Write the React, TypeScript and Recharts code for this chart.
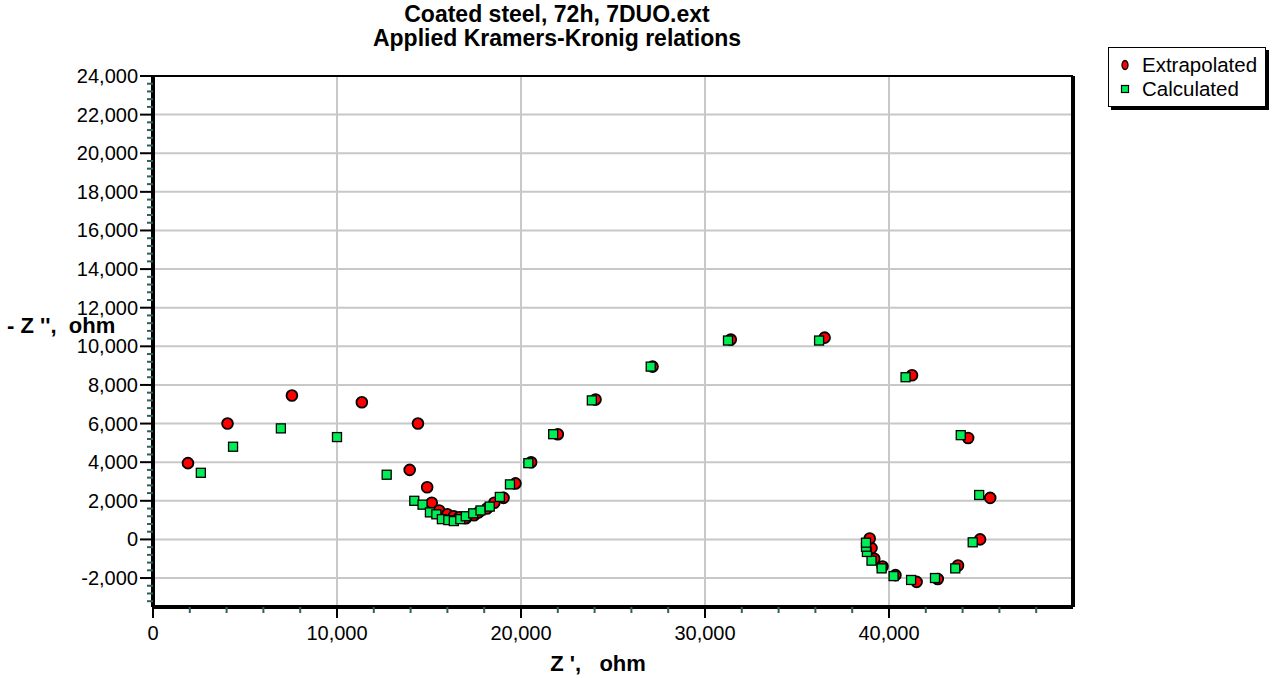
import { ScatterChart, Scatter, XAxis, YAxis, CartesianGrid, ReferenceLine } from "recharts";

// Nyquist data (Z' in ohm, -Z'' in ohm)
const extrapolatedRe = [
  1900, 4050, 7550, 11350, 14400, 13950, 14900, 15150, 15550, 16000, 16350, 16650, 17000,
  17450, 17700, 18150, 18550, 19050, 19700, 20550, 22000, 24050, 27150, 31400, 36500,
  41250, 44300, 45500, 44950, 43750, 42650, 41500, 40350, 39650, 39200, 39050, 38950,
];
const extrapolatedIm = [
  3950, 6000, 7450, 7100, 6000, 3600, 2700, 1900, 1500, 1300, 1200, 1150, 1100,
  1250, 1400, 1600, 1900, 2150, 2900, 4000, 5450, 7250, 8950, 10350, 10450,
  8500, 5250, 2150, 0, -1350, -2050, -2200, -1850, -1400, -1000, -450, 50,
];
const calculatedRe = [
  2600, 4350, 6950, 10000, 12700, 14200, 14650, 15050, 15400, 15700, 16050, 16350, 16700,
  17000, 17400, 17800, 18300, 18850, 19400, 20400, 21750, 23850, 27050, 31250, 36200,
  40900, 43900, 44900, 44550, 43600, 42500, 41200, 40250, 39600, 39050, 38800, 38750, 38750,
];
const calculatedIm = [
  3450, 4800, 5750, 5300, 3350, 2000, 1800, 1400, 1300, 1050, 1000, 950, 1050,
  1200, 1350, 1500, 1700, 2200, 2850, 3950, 5450, 7200, 8950, 10300, 10300,
  8400, 5400, 2300, -150, -1500, -2000, -2100, -1900, -1500, -1100, -650, -380, -170,
];

const xMajor = [0, 10000, 20000, 30000, 40000];
const yMajor = [-2000, 0, 2000, 4000, 6000, 8000, 10000, 12000, 14000, 16000, 18000, 20000, 22000, 24000];
const xGrid = [10000, 20000, 30000, 40000];
const yGrid = [-2000, 0, 2000, 4000, 6000, 8000, 10000, 12000, 14000, 16000, 18000, 20000, 22000];

const X_MAX = 50000;
const Y_MIN = -3500;
const Y_MAX = 24000;

const xTicks: number[] = [];
for (let v = 0; v < X_MAX; v += 2000) xTicks.push(v);
const yTicks: number[] = [];
for (let v = -3200; v <= Y_MAX; v += 400) yTicks.push(v);

const extrapolated = extrapolatedRe.map((x, i) => ({ x, y: extrapolatedIm[i] }));
const calculated = calculatedRe.map((x, i) => ({ x, y: calculatedIm[i] }));

const FONT = '"Liberation Sans", Arial, sans-serif';
const fmt = (v: number) => v.toLocaleString("en-US");

const XTick = ({ x, y, payload }: any) => {
  const v = payload.value;
  if (xMajor.includes(v)) {
    return (
      <g>
        <line x1={x} x2={x} y1={y} y2={y + 11} stroke="#000" strokeWidth={2} />
        <text x={x} y={y + 33} textAnchor="middle" fontSize={20} fontFamily={FONT} fill="#000">
          {fmt(v)}
        </text>
      </g>
    );
  }
  return <line x1={x} x2={x} y1={y} y2={y + 6} stroke="#2f5f5f" strokeWidth={2} />;
};

const YTick = ({ x, y, payload }: any) => {
  const v = payload.value;
  if (yMajor.includes(v)) {
    return (
      <g>
        <line x1={x - 13} x2={x} y1={y} y2={y} stroke="#000" strokeWidth={2} />
        <text x={x - 15} y={y + 7} textAnchor="end" fontSize={20} fontFamily={FONT} fill="#000">
          {fmt(v)}
        </text>
      </g>
    );
  }
  return <line x1={x - 6} x2={x} y1={y} y2={y} stroke="#2f5f5f" strokeWidth={2} />;
};

const RedDot = ({ cx, cy }: any) => (
  <circle cx={cx} cy={cy} r={5.4} fill="#ff0000" stroke="#000" strokeWidth={1.8} />
);
const GreenSquare = ({ cx, cy }: any) => (
  <rect x={cx - 4.5} y={cy - 4.5} width={9} height={9} fill="#00ee55" stroke="#000" strokeWidth={1.3} />
);

const YLabel = () => (
  <text x={7} y={333} fontSize={22} fontWeight="bold" fontFamily={FONT} fill="#000" style={{ whiteSpace: "pre" }}>
    {"- Z '',  ohm"}
  </text>
);
const XLabel = () => (
  <text x={598} y={671} textAnchor="middle" fontSize={22} fontWeight="bold" fontFamily={FONT} fill="#000" style={{ whiteSpace: "pre" }}>
    {"Z ',   ohm"}
  </text>
);

export default function App() {
  return (
    <div style={{ position: "absolute", left: 0, top: 0, width: 1284, height: 678, background: "#fff", fontFamily: FONT }}>
      <div style={{ position: "absolute", left: 0, width: 1114, top: 2, textAlign: "center", fontWeight: "bold", fontSize: 23, lineHeight: "24px", color: "#000" }}>
        <div>Coated steel, 72h, 7DUO.ext</div>
        <div>Applied Kramers-Kronig relations</div>
      </div>
      <ScatterChart width={1284} height={678} margin={{ top: 76, right: 211, bottom: 0, left: 0 }}>
        <CartesianGrid
          stroke="#c8c8c8"
          strokeWidth={2}
          horizontalValues={yGrid}
          verticalValues={xGrid}
        />
        <XAxis
          type="number"
          dataKey="x"
          domain={[0, X_MAX]}
          ticks={xTicks}
          interval={0}
          tickSize={0}
          tickMargin={0}
          tick={<XTick />}
          height={71}
          axisLine={{ stroke: "#000", strokeWidth: 4 }}
          allowDataOverflow
          label={<XLabel />}
        />
        <YAxis
          type="number"
          dataKey="y"
          domain={[Y_MIN, Y_MAX]}
          ticks={yTicks}
          interval={0}
          tickSize={0}
          tickMargin={0}
          tick={<YTick />}
          width={153}
          axisLine={{ stroke: "#000", strokeWidth: 4 }}
          allowDataOverflow
          label={<YLabel />}
        />
        <ReferenceLine x={X_MAX} stroke="#000" strokeWidth={4} />
        <ReferenceLine y={Y_MAX} stroke="#000" strokeWidth={2} />
        <Scatter name="Extrapolated" data={extrapolated} shape={<RedDot />} isAnimationActive={false} />
        <Scatter name="Calculated" data={calculated} shape={<GreenSquare />} isAnimationActive={false} />
      </ScatterChart>
      <div style={{ position: "absolute", left: 1108, top: 47, width: 156, height: 58, border: "1px solid #000", boxShadow: "3px 3px 0 #000", background: "#fff", fontSize: 20.5, color: "#000" }}>
        <div style={{ position: "absolute", left: 11, top: 5, display: "flex", alignItems: "center", whiteSpace: "nowrap" }}>
          <svg width={10} height={12} style={{ marginRight: 12 }}>
            <ellipse cx={5} cy={6} rx={3} ry={4.5} fill="#ff0000" stroke="#000" strokeWidth={1.3} />
          </svg>
          Extrapolated
        </div>
        <div style={{ position: "absolute", left: 11, top: 29, display: "flex", alignItems: "center", whiteSpace: "nowrap" }}>
          <svg width={10} height={12} style={{ marginRight: 12 }}>
            <rect x={1.5} y={2.5} width={7} height={7} fill="#00ee55" stroke="#000" strokeWidth={1.2} />
          </svg>
          Calculated
        </div>
      </div>
    </div>
  );
}
